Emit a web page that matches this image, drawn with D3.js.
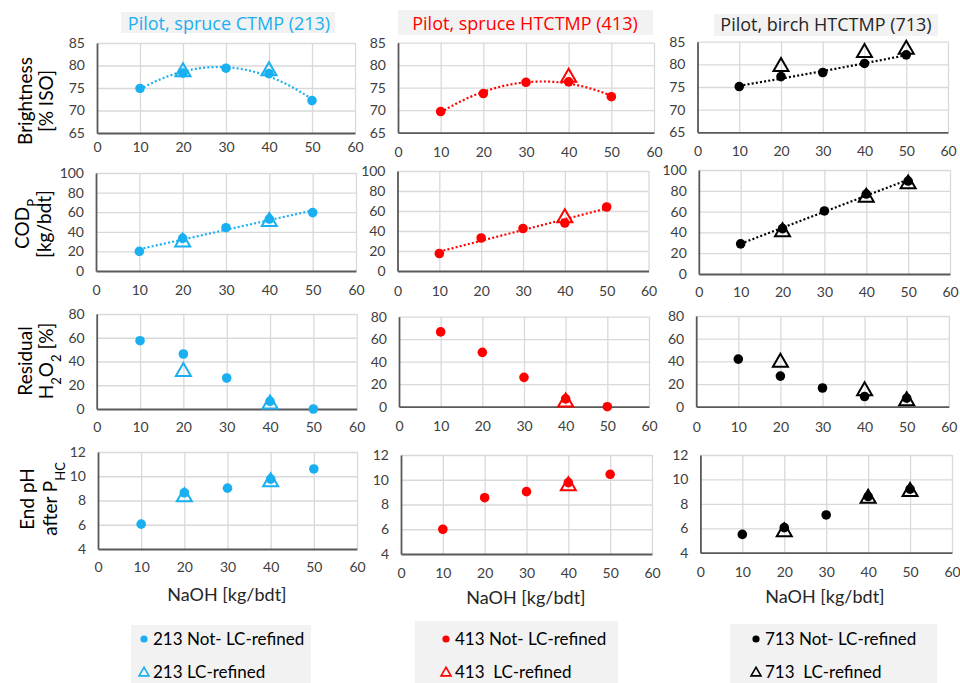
<!DOCTYPE html>
<html>
<head>
<meta charset="utf-8">
<script src="https://cdn.jsdelivr.net/npm/d3@7"></script>
<style>
  body { margin: 0; background: #fff; }
  text { font-family: Lato, "Noto Sans", sans-serif; }
</style>
</head>
<body>
<svg id="chart" width="960" height="683"></svg>
<script>
// NaOH charge [kg/bdt]
const naoh = [10, 20, 30, 40, 50];
const naohLC213 = [20, 40];
const naohLC413 = [40];
const naohLC713 = [20, 40, 50];

// Brightness [% ISO]
const bright213 = [74.9, 78.3, 79.4, 78.2, 72.2];
const bright213LC = [78.6, 78.8];
const bright413 = [69.7, 73.7, 76.2, 76.3, 73.0];
const bright413LC = [77.3];
const bright713 = [75.1, 77.3, 78.2, 80.2, 82.1];
const bright713LC = [79.5, 82.6, 83.3];

// COD_P [kg/bdt]
const cod213 = [20, 33.3, 44.2, 53, 59.6];
const cod213LC = [29.5, 50.4];
const cod413 = [17.5, 33, 42.5, 48, 64];
const cod413LC = [53];
const cod713 = [29, 43.6, 60.6, 76.9, 89.4];
const cod713LC = [40.5, 73.7, 86.5];

// Residual H2O2 [%]
const h2o2_213 = [57.5, 46.3, 26.1, 6.5, 0];
const h2o2_213LC = [31.4, 4];
const h2o2_413 = [66.5, 48.3, 26.1, 7, 0];
const h2o2_413LC = [4];
const h2o2_713 = [42, 27, 16.5, 9, 7.5];
const h2o2_713LC = [39, 14, 5];

// End pH after P_HC
const ph213 = [6.05, 8.64, 9.02, 9.76, 10.6];
const ph213LC = [8.3, 9.54];
const ph413 = [6.0, 8.55, 9.04, 9.77, 10.44];
const ph413LC = [9.5];
const ph713 = [5.5, 6.05, 7.09, 8.6, 9.2];
const ph713LC = [5.7, 8.45, 9.0];

const xTicks = [0, 10, 20, 30, 40, 50, 60];
const brightTicks = [65, 70, 75, 80, 85];
const codTicks = [0, 20, 40, 60, 80, 100];
const h2o2Ticks = [0, 20, 40, 60, 80];
const phTicks = [4, 6, 8, 10, 12];

const titles = ["Pilot, spruce CTMP (213)", "Pilot, spruce HTCTMP (413)", "Pilot, birch HTCTMP (713)"];
const legendNot = ["213 Not- LC-refined", "413 Not- LC-refined", "713 Not- LC-refined"];
const legendLC = ["213 LC-refined", "413  LC-refined", "713  LC-refined"];
const colors = ["#1aaff0", "#ff0000", "#000000"];
const lcX = [naohLC213, naohLC413, naohLC713];

const rows = [
  { ticks: brightTicks, not: [bright213, bright413, bright713], lc: [bright213LC, bright413LC, bright713LC], trend: 2 },
  { ticks: codTicks, not: [cod213, cod413, cod713], lc: [cod213LC, cod413LC, cod713LC], trend: 1 },
  { ticks: h2o2Ticks, not: [h2o2_213, h2o2_413, h2o2_713], lc: [h2o2_213LC, h2o2_413LC, h2o2_713LC], trend: 0 },
  { ticks: phTicks, not: [ph213, ph413, ph713], lc: [ph213LC, ph413LC, ph713LC], trend: 0 }
];

// plot boxes per row / column (pixel layout)
const boxes = [
  [{x0: 97, x1: 355, top: 43, bottom: 133, lab: 9}, {x0: 398, x1: 654, top: 42.7, bottom: 132.7, lab: 14}, {x0: 697.5, x1: 948, top: 41.7, bottom: 132.3, lab: 14}],
  [{x0: 96, x1: 356, top: 173, bottom: 271, lab: 14}, {x0: 397.5, x1: 648.5, top: 171, bottom: 271, lab: 15}, {x0: 698.8, x1: 950, top: 170, bottom: 274, lab: 13}],
  [{x0: 96.7, x1: 356.7, top: 314, bottom: 409, lab: 13}, {x0: 399, x1: 649, top: 316.7, bottom: 406.7, lab: 14}, {x0: 696.2, x1: 948.8, top: 316, bottom: 406.7, lab: 15}],
  [{x0: 98, x1: 357, top: 452, bottom: 549, lab: 13}, {x0: 401, x1: 652, top: 455, bottom: 554, lab: 14}, {x0: 700.4, x1: 952, top: 455, bottom: 552.7, lab: 14}]
];

const svg = d3.select("#chart");
svg.append("rect").attr("width", 960).attr("height", 683).attr("fill", "#fff");

// least squares polynomial fit (Excel style trendline)
function polyfit(xs, ys, deg) {
  const n = deg + 1;
  const A = d3.range(n).map(() => new Array(n + 1).fill(0));
  xs.forEach((x, k) => {
    for (let i = 0; i < n; i++) {
      for (let j = 0; j < n; j++) A[i][j] += Math.pow(x, i + j);
      A[i][n] += ys[k] * Math.pow(x, i);
    }
  });
  for (let i = 0; i < n; i++) {
    for (let r = i + 1; r < n; r++) {
      const f = A[r][i] / A[i][i];
      for (let c = i; c <= n; c++) A[r][c] -= f * A[i][c];
    }
  }
  const coef = new Array(n).fill(0);
  for (let i = n - 1; i >= 0; i--) {
    let s = A[i][n];
    for (let j = i + 1; j < n; j++) s -= A[i][j] * coef[j];
    coef[i] = s / A[i][i];
  }
  return x => coef.reduce((acc, c, i) => acc + c * Math.pow(x, i), 0);
}

function triPath(s) {
  const h = s * Math.sqrt(3) / 2;
  return `M0,${-h * 2 / 3}L${s / 2},${h / 3}L${-s / 2},${h / 3}Z`;
}

rows.forEach((row, ri) => {
  [0, 1, 2].forEach(ci => {
    const b = boxes[ri][ci];
    const x = d3.scaleLinear().domain([0, 60]).range([b.x0, b.x1]);
    const y = d3.scaleLinear().domain(d3.extent(row.ticks)).range([b.bottom, b.top]);
    const g = svg.append("g");

    // gridlines
    g.append("g").attr("transform", `translate(0,${b.bottom})`)
      .call(d3.axisBottom(x).tickValues(xTicks.slice(1)).tickSize(-(b.bottom - b.top)).tickFormat(""))
      .call(a => a.select(".domain").remove())
      .selectAll("line").attr("stroke", "#d9d9d9").attr("stroke-width", 1.3);
    g.append("g").attr("transform", `translate(${b.x0},0)`)
      .call(d3.axisLeft(y).tickValues(row.ticks.slice(1)).tickSize(-(b.x1 - b.x0)).tickFormat(""))
      .call(a => a.select(".domain").remove())
      .selectAll("line").attr("stroke", "#d9d9d9").attr("stroke-width", 1.3);

    // axes
    const ax = g.append("g").attr("transform", `translate(0,${b.bottom})`)
      .call(d3.axisBottom(x).tickValues(xTicks).tickSize(0).tickPadding(b.lab));
    const ay = g.append("g").attr("transform", `translate(${b.x0},0)`)
      .call(d3.axisLeft(y).tickValues(row.ticks).tickSize(0).tickPadding(12));
    [ax, ay].forEach(a => {
      a.select(".domain").attr("stroke", "#595959").attr("stroke-width", 1.8);
      a.selectAll("text").attr("fill", "#404040").style("font-size", "14px")
        .style("font-family", "Lato, sans-serif");
    });

    const col = colors[ci];
    const notY = row.not[ci];

    // trendline
    if (row.trend) {
      const f = polyfit(naoh, notY, row.trend);
      const xs = d3.range(naoh[0], naoh[naoh.length - 1] + 0.01, 0.5);
      g.append("path")
        .attr("d", d3.line().x(d => x(d)).y(d => y(f(d)))(xs))
        .attr("fill", "none").attr("stroke", col).attr("stroke-width", 2.2)
        .attr("stroke-dasharray", "2,2.2");
    }

    // not refined (circles)
    g.selectAll("circle.not").data(notY).enter().append("circle")
      .attr("cx", (d, i) => x(naoh[i])).attr("cy", d => y(d))
      .attr("r", 4.8).attr("fill", col);

    // LC refined (open triangles)
    g.selectAll("path.lc").data(row.lc[ci]).enter().append("path")
      .attr("transform", (d, i) => `translate(${x(lcX[ci][i])},${y(d)})`)
      .attr("d", triPath(15))
      .attr("fill", "none").attr("stroke", col).attr("stroke-width", 2);
  });
});

// column titles
const titleBoxes = [
  {x: 121, y: 12, w: 214, h: 21, cx: 229, base: 29.5},
  {x: 398, y: 10, w: 255, h: 25, cx: 525, base: 30},
  {x: 714, y: 14, w: 224, h: 22, cx: 826, base: 31}
];
titles.forEach((t, i) => {
  const tb = titleBoxes[i];
  svg.append("rect").attr("x", tb.x).attr("y", tb.y).attr("width", tb.w).attr("height", tb.h).attr("fill", "#f2f2f2");
  svg.append("text").attr("x", tb.cx).attr("y", tb.base).attr("text-anchor", "middle")
    .style("font-family", "'Open Sans', sans-serif").style("font-size", "18px")
    .attr("fill", i === 2 ? "#262626" : colors[i]).text(t);
});

// y axis titles (left column)
const yTitles = [
  {lines: [[["Brightness", 0]], [["[% ISO]", 0]]], cy: 101, bx: [32, 53]},
  {lines: [[["COD", 0], ["P", 1]], [["[kg/bdt]", 0]]], cy: 224, bx: [29, 51]},
  {lines: [[["Residual", 0]], [["H", 0], ["2", 1], ["O", 0], ["2", 1], [" [%]", 0]]], cy: 361, bx: [32, 53]},
  {lines: [[["End pH", 0]], [["after P", 0], ["HC", 1]]], cy: 499, bx: [34, 57]}
];
yTitles.forEach(yt => {
  yt.lines.forEach((parts, li) => {
    const t = svg.append("text")
      .attr("transform", `translate(${yt.bx[li]},${yt.cy}) rotate(-90)`)
      .attr("text-anchor", "middle").attr("fill", "#000")
      .style("font-size", "19px");
    parts.forEach(p => {
      const s = t.append("tspan").text(p[0]);
      if (p[1]) s.attr("baseline-shift", "sub").style("font-size", "13px");
    });
  });
});

// x axis titles
const xTitlePos = [{cx: 227, base: 601}, {cx: 526, base: 604}, {cx: 825, base: 603}];
xTitlePos.forEach(p => {
  svg.append("text").attr("x", p.cx).attr("y", p.base).attr("text-anchor", "middle")
    .attr("fill", "#262626").style("font-size", "18px").text("NaOH [kg/bdt]");
});

// legends
const legendBoxes = [
  {x: 131, y: 625, w: 180, mx: 144, tx: 153},
  {x: 415, y: 621, w: 203, mx: 446, tx: 455},
  {x: 730, y: 624, w: 207, mx: 756, tx: 765}
];
legendBoxes.forEach((lb, i) => {
  svg.append("rect").attr("x", lb.x).attr("y", lb.y).attr("width", lb.w).attr("height", 683 - lb.y).attr("fill", "#f2f2f2");
  svg.append("circle").attr("cx", lb.mx).attr("cy", 639).attr("r", 3.6).attr("fill", colors[i]);
  svg.append("path").attr("transform", `translate(${lb.mx},${673})`).attr("d", triPath(10))
    .attr("fill", "none").attr("stroke", colors[i]).attr("stroke-width", 1.6);
  svg.append("text").attr("x", lb.tx).attr("y", 644.5).attr("fill", "#000").style("font-size", "17px")
    .style("white-space", "pre").text(legendNot[i]);
  svg.append("text").attr("x", lb.tx).attr("y", 678).attr("fill", "#000").style("font-size", "17px")
    .style("white-space", "pre").text(legendLC[i]);
});
</script>
</body>
</html>
